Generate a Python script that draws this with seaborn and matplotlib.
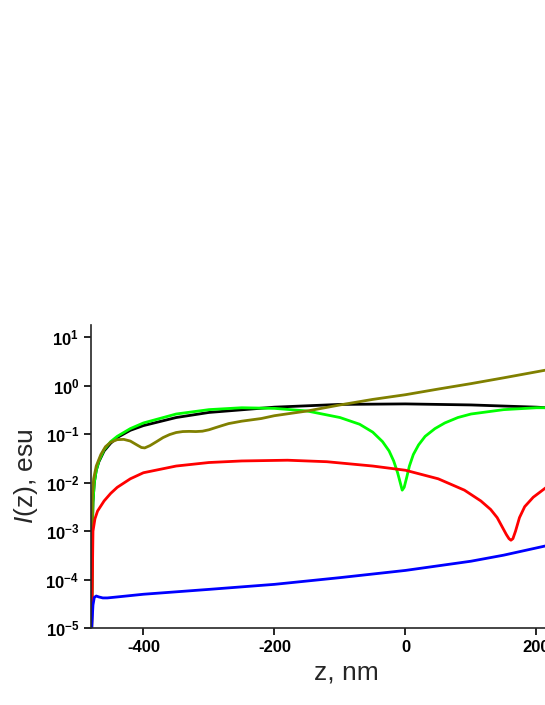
import matplotlib
matplotlib.use("Agg")
import matplotlib.pyplot as plt
import seaborn as sns
import pandas as pd

sns.set_theme(style="ticks")
plt.rcParams["font.family"] = ["Liberation Sans", "DejaVu Sans"]
plt.rcParams["axes.unicode_minus"] = False
plt.rcParams["mathtext.fontset"] = "custom"
plt.rcParams["mathtext.it"] = "Liberation Sans:italic"

black_z = [-479, -478, -477, -475, -472, -468, -460, -450, -440, -420, -400, -350, -300, -200, -100, 0, 100, 200, 215]
black_v = [1e-5, 1e-3, 4e-3, 0.01, 0.018, 0.027, 0.045, 0.065, 0.085, 0.12, 0.15, 0.22, 0.28, 0.36, 0.41, 0.42, 0.40, 0.36, 0.35]

green_z = [-479, -478, -477, -475, -472, -468, -460, -450, -440, -420, -400, -350, -300, -250, -200, -150, -100, -70, -50, -35, -25, -18, -12, -8, -5, -2, 2, 6, 12, 20, 30, 45, 60, 80, 100, 150, 200, 215]
green_v = [1e-5, 1e-3, 4e-3, 0.01, 0.018, 0.028, 0.048, 0.07, 0.09, 0.13, 0.17, 0.26, 0.32, 0.35, 0.34, 0.3, 0.22, 0.16, 0.11, 0.07, 0.045, 0.028, 0.016, 0.01, 0.007, 0.008, 0.013, 0.022, 0.038, 0.06, 0.09, 0.13, 0.17, 0.22, 0.26, 0.32, 0.35, 0.35]

olive_z = [-479, -478, -476, -472, -465, -458, -450, -440, -430, -420, -410, -403, -398, -390, -380, -370, -360, -350, -340, -330, -320, -310, -300, -290, -280, -270, -250, -220, -200, -150, -100, -50, 0, 50, 100, 150, 215]
olive_v = [1e-5, 5e-3, 0.012, 0.022, 0.038, 0.055, 0.068, 0.077, 0.078, 0.072, 0.06, 0.053, 0.052, 0.058, 0.07, 0.085, 0.098, 0.108, 0.113, 0.114, 0.113, 0.115, 0.123, 0.136, 0.15, 0.165, 0.185, 0.21, 0.24, 0.3, 0.4, 0.52, 0.65, 0.85, 1.1, 1.45, 2.1]

red_z = [-479, -477, -474, -470, -460, -450, -440, -420, -400, -350, -300, -250, -180, -120, -50, 0, 50, 90, 115, 130, 140, 148, 154, 158, 161, 164, 168, 174, 182, 195, 215]
red_v = [1e-5, 1e-3, 1.8e-3, 2.6e-3, 4.2e-3, 6e-3, 8e-3, 0.012, 0.016, 0.022, 0.026, 0.028, 0.029, 0.027, 0.022, 0.018, 0.012, 0.007, 0.0042, 0.0028, 0.0019, 0.0012, 0.00085, 0.0007, 0.00065, 0.0007, 0.001, 0.0019, 0.0032, 0.005, 0.008]

blue_z = [-479, -477, -475, -472, -468, -462, -455, -440, -400, -300, -200, -100, 0, 100, 150, 215]
blue_v = [1e-5, 3e-5, 4.3e-5, 4.6e-5, 4.4e-5, 4.2e-5, 4.2e-5, 4.4e-5, 5e-5, 6.3e-5, 8e-5, 1.1e-4, 1.55e-4, 2.4e-4, 3.2e-4, 5e-4]

curves = [
    (black_z, black_v, "#000000"),
    (green_z, green_v, "#00ff00"),
    (olive_z, olive_v, "#808000"),
    (red_z, red_v, "#ff0000"),
    (blue_z, blue_v, "#0000ff"),
]

fig = plt.figure(figsize=(5.45, 7.05), dpi=100)
ax = fig.add_axes([0.167, 0.109, 0.9376, 0.43])
for z, v, c in curves:
    df = pd.DataFrame({"z": z, "v": v})
    sns.lineplot(data=df, x="z", y="v", color=c, lw=2, ax=ax, sort=False)

ax.set_yscale("log")
ax.set_xlim(-480, 300)
ax.set_ylim(1e-5, 10 ** 1.25)
ax.set_xticks([-400, -200, 0, 200])
ax.set_yticks([1e-5, 1e-4, 1e-3, 1e-2, 1e-1, 1e0, 1e1])
ax.minorticks_off()
for lab in ax.get_xticklabels() + ax.get_yticklabels():
    lab.set_fontweight("bold")
    lab.set_fontsize(12)
ax.set_xlabel("z, nm", fontsize=19)
ax.set_ylabel(r"$I$(z), esu", fontsize=19)
sns.despine(ax=ax)
ax.spines["left"].set_linewidth(1.2)
ax.spines["bottom"].set_linewidth(1.2)
ax.tick_params(width=1.2, length=5, colors="black")
fig.savefig("out.png", dpi=100)
